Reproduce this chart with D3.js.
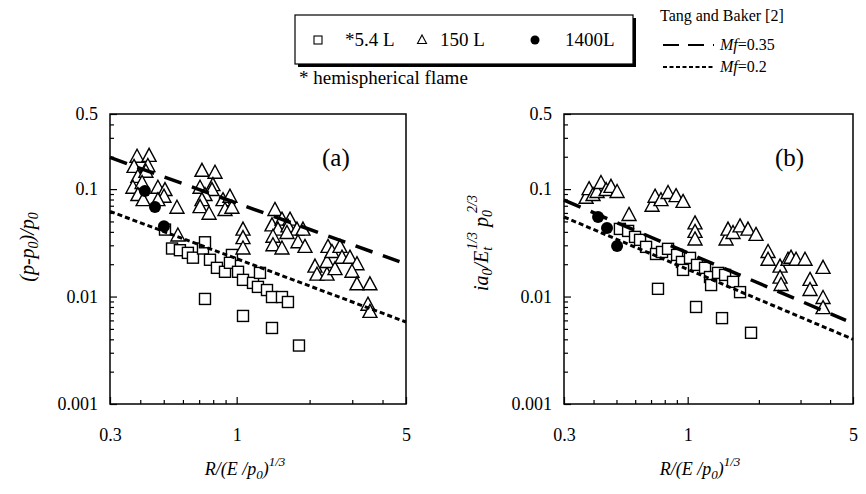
<!DOCTYPE html>
<html>
<head>
<meta charset="utf-8">
<script src="https://cdnjs.cloudflare.com/ajax/libs/d3/7.8.5/d3.min.js"></script>
<style>
    body { margin: 0; background: #fff; }
    svg { display: block; }
    svg text { font-family: "Liberation Serif", "Times New Roman", serif; fill: #000; }
</style>
</head>
<body>
<svg id="chart" width="866" height="494"></svg>
<script>
// ---- data: [R/(E/p0)^1/3, value] ----

// panel (a): (p-p0)/p0
const aTriangles150 = [
    [0.388, 0.200], [0.435, 0.204], [0.377, 0.161], [0.430, 0.164], [0.391, 0.130],
    [0.422, 0.145], [0.373, 0.103], [0.407, 0.114], [0.391, 0.088], [0.411, 0.079],
    [0.473, 0.103], [0.506, 0.098], [0.501, 0.085], [0.473, 0.079],
    [0.567, 0.067], [0.572, 0.037],
    [0.719, 0.148], [0.814, 0.142], [0.706, 0.103], [0.798, 0.109], [0.791, 0.098],
    [0.740, 0.088], [0.719, 0.079], [0.706, 0.068], [0.769, 0.059], [0.878, 0.079],
    [0.938, 0.085], [0.895, 0.064], [0.956, 0.067],
    [1.062, 0.042], [1.062, 0.035], [1.062, 0.028],
    [1.439, 0.064], [1.399, 0.046], [1.538, 0.052], [1.481, 0.042], [1.412, 0.036],
    [1.412, 0.030], [1.538, 0.028], [1.660, 0.052], [1.628, 0.045], [1.774, 0.042],
    [1.878, 0.042], [1.791, 0.032], [1.914, 0.029], [1.613, 0.039],
    [2.105, 0.019], [2.145, 0.016], [2.360, 0.016], [2.360, 0.021], [2.382, 0.029],
    [2.474, 0.026], [2.546, 0.018], [2.669, 0.029], [2.721, 0.023], [2.935, 0.023],
    [3.137, 0.020], [2.992, 0.017], [3.137, 0.013], [3.549, 0.013], [3.483, 0.0084],
    [3.549, 0.0072]
];
const aSquares54 = [
    [0.506, 0.042], [0.541, 0.028], [0.583, 0.027], [0.629, 0.0255], [0.660, 0.023],
    [0.726, 0.028], [0.740, 0.032], [0.776, 0.022], [0.829, 0.0185], [0.895, 0.017],
    [0.956, 0.0244], [0.938, 0.0206], [1.013, 0.017], [1.062, 0.0143], [1.168, 0.0134],
    [1.248, 0.0166], [1.224, 0.0123], [1.334, 0.0115], [1.399, 0.0099], [1.538, 0.0099],
    [1.628, 0.0089], [0.740, 0.0095], [1.062, 0.0066], [1.399, 0.0051], [1.808, 0.0035]
];
const aCircles1400 = [[0.418, 0.096], [0.460, 0.068], [0.501, 0.045]];
const aTangBaker035 = [[0.3, 0.197], [4.7, 0.0211]];
const aTangBaker020 = [[0.3, 0.062], [5, 0.0058]];

// panel (b): i a0 / (Et^1/3 p0^2/3)
const bTriangles150 = [
    [0.372, 0.083], [0.383, 0.100], [0.398, 0.088], [0.414, 0.094], [0.430, 0.114],
    [0.452, 0.098], [0.474, 0.105], [0.503, 0.094],
    [0.565, 0.0575],
    [0.707, 0.070], [0.728, 0.085], [0.771, 0.079], [0.826, 0.092], [0.893, 0.086],
    [0.956, 0.076],
    [1.074, 0.048], [1.074, 0.040], [1.074, 0.034],
    [1.453, 0.034], [1.481, 0.042], [1.555, 0.039], [1.665, 0.045], [1.799, 0.042],
    [1.945, 0.0375],
    [2.187, 0.026], [2.187, 0.022], [2.458, 0.019], [2.458, 0.015], [2.482, 0.0128],
    [2.656, 0.022], [2.735, 0.023], [2.872, 0.022], [3.134, 0.022], [3.291, 0.0143],
    [3.291, 0.0115], [3.735, 0.0185], [3.735, 0.0097], [3.735, 0.0078]
];
const bSquares54 = [
    [0.517, 0.0426], [0.560, 0.0408], [0.599, 0.0359], [0.629, 0.0337], [0.667, 0.029],
    [0.735, 0.0249], [0.779, 0.026], [0.826, 0.0278], [0.902, 0.0244], [0.946, 0.021],
    [0.956, 0.0177], [1.023, 0.0229], [1.095, 0.0197], [1.184, 0.0185], [1.243, 0.0152],
    [1.256, 0.0128], [1.344, 0.0166], [1.439, 0.0159], [1.555, 0.0137], [1.665, 0.011],
    [0.749, 0.0118], [1.085, 0.008], [1.397, 0.0063], [1.853, 0.0046]
];
const bCircles1400 = [[0.418, 0.055], [0.456, 0.0435], [0.503, 0.0296]];
const bTangBaker035 = [[0.3, 0.079], [4.67, 0.006]];
const bTangBaker020 = [[0.3, 0.055], [5, 0.004]];

// axis ticks
const xTickLabels = [0.3, 1, 5];
const xMinorTicks = [0.4, 0.5, 0.6, 0.7, 0.8, 0.9, 2, 3, 4];
const yTickLabels = [0.001, 0.01, 0.1, 0.5];
const yMinorTicks = [0.002, 0.003, 0.004, 0.005, 0.006, 0.007, 0.008, 0.009,
                     0.02, 0.03, 0.04, 0.05, 0.06, 0.07, 0.08, 0.09, 0.2, 0.3, 0.4];

const svg = d3.select("#chart");
const plotTop = 114, plotBottom = 404;
const serif = "'Liberation Serif', 'Times New Roman', serif";

const triPath = "M0,-7.5L7,5.5L-7,5.5Z";

function drawPanel(p) {
    const x = d3.scaleLog().domain([0.3, 5]).range([p.left, p.right]);
    const y = d3.scaleLog().domain([0.001, 0.5]).range([plotBottom, plotTop]);
    const g = svg.append("g");

    // minor ticks (inward)
    g.append("g").attr("transform", `translate(0,${plotBottom})`)
        .call(d3.axisBottom(x).tickValues(xMinorTicks).tickSize(-4).tickFormat(""))
        .call(a => a.select(".domain").remove());
    g.append("g").attr("transform", `translate(${p.left},0)`)
        .call(d3.axisLeft(y).tickValues(yMinorTicks).tickSize(-4).tickFormat(""))
        .call(a => a.select(".domain").remove());

    // major ticks + labels
    g.append("g").attr("transform", `translate(0,${plotBottom})`)
        .call(d3.axisBottom(x).tickValues(xTickLabels).tickSize(-7).tickPadding(24)
            .tickFormat(d => String(d)))
        .call(a => a.select(".domain").remove());
    g.append("g").attr("transform", `translate(${p.left},0)`)
        .call(d3.axisLeft(y).tickValues(yTickLabels).tickSize(-7).tickPadding(12)
            .tickFormat(d => String(d)))
        .call(a => a.select(".domain").remove());

    g.selectAll(".tick line").attr("stroke", "#000").attr("stroke-width", 1.2);
    g.selectAll(".tick text")
        .attr("font-family", serif)
        .attr("font-size", 18)
        .attr("fill", "#000");

    // frame
    g.append("rect")
        .attr("x", p.left).attr("y", plotTop)
        .attr("width", p.right - p.left).attr("height", plotBottom - plotTop)
        .attr("fill", "none").attr("stroke", "#000").attr("stroke-width", 1.5);

    const marks = g.append("g");

    // 5.4 L squares
    marks.selectAll(".sq").data(p.squares).enter().append("rect")
        .attr("x", d => x(d[0]) - 5.5).attr("y", d => y(d[1]) - 5.5)
        .attr("width", 11).attr("height", 11)
        .attr("fill", "#fff").attr("stroke", "#000").attr("stroke-width", 1.4);

    // 150 L triangles
    marks.selectAll(".tri").data(p.triangles).enter().append("path")
        .attr("d", triPath)
        .attr("transform", d => `translate(${x(d[0])},${y(d[1])})`)
        .attr("fill", "#fff").attr("stroke", "#000").attr("stroke-width", 1.4);

    // 1400 L circles
    marks.selectAll(".dot").data(p.circles).enter().append("circle")
        .attr("cx", d => x(d[0])).attr("cy", d => y(d[1])).attr("r", 6)
        .attr("fill", "#000");

    // Tang and Baker curves
    const line = d3.line().x(d => x(d[0])).y(d => y(d[1]));
    g.append("path").datum(p.tb035).attr("d", line)
        .attr("fill", "none").attr("stroke", "#000").attr("stroke-width", 3.5)
        .attr("stroke-dasharray", "18,11");
    g.append("path").datum(p.tb020).attr("d", line)
        .attr("fill", "none").attr("stroke", "#000").attr("stroke-width", 3)
        .attr("stroke-dasharray", "5,3");

    // panel label
    g.append("text")
        .attr("x", p.labelX).attr("y", 166)
        .attr("font-size", 25)
        .text(p.label);

    // x axis title
    const xt = g.append("text")
        .attr("x", p.titleX).attr("y", 475)
        .attr("text-anchor", "middle")
        .attr("font-size", 18).attr("font-style", "italic");
    xt.append("tspan").text("R/(E /p");
    xt.append("tspan").attr("dy", 4).attr("font-size", 13).text("0");
    xt.append("tspan").attr("dy", -4).text(")");
    xt.append("tspan").attr("dy", -9).attr("font-size", 13).text("1/3");
}

drawPanel({
    left: 110, right: 406,
    squares: aSquares54, triangles: aTriangles150, circles: aCircles1400,
    tb035: aTangBaker035, tb020: aTangBaker020,
    label: "(a)", labelX: 322, titleX: 245
});
drawPanel({
    left: 564, right: 853,
    squares: bSquares54, triangles: bTriangles150, circles: bCircles1400,
    tb035: bTangBaker035, tb020: bTangBaker020,
    label: "(b)", labelX: 775, titleX: 700
});

// y axis titles (rotated)
const yl = svg.append("text")
    .attr("transform", "translate(34,247) rotate(-90)")
    .attr("text-anchor", "middle")
    .attr("font-size", 20).attr("font-style", "italic");
yl.append("tspan").text("(p-p");
yl.append("tspan").attr("dy", 4).attr("font-size", 14).text("0");
yl.append("tspan").attr("dy", -4).text(")/p");
yl.append("tspan").attr("dy", 4).attr("font-size", 14).text("0");

const yr = svg.append("text")
    .attr("transform", "translate(488,243) rotate(-90)")
    .attr("text-anchor", "middle")
    .attr("font-size", 20).attr("font-style", "italic");
yr.append("tspan").text("ia");
yr.append("tspan").attr("dy", 4).attr("font-size", 14).text("0");
yr.append("tspan").attr("dy", -4).text("/E");
yr.append("tspan").attr("dy", 4).attr("font-size", 14).text("t");
yr.append("tspan").attr("dx", -3).attr("dy", -15).attr("font-size", 14).text("1/3");
yr.append("tspan").attr("dy", 11).text(" p");
yr.append("tspan").attr("dy", 4).attr("font-size", 14).text("0");
yr.append("tspan").attr("dx", -3).attr("dy", -15).attr("font-size", 14).text("2/3");

// ---- legend box ----
const leg = svg.append("g");
leg.append("rect").attr("x", 298).attr("y", 18).attr("width", 338).attr("height", 49).attr("fill", "#000");
leg.append("rect").attr("x", 295).attr("y", 15).attr("width", 338).attr("height", 49)
    .attr("fill", "#fff").attr("stroke", "#000").attr("stroke-width", 1.2);
leg.append("rect").attr("x", 314).attr("y", 36).attr("width", 8).attr("height", 8)
    .attr("fill", "#fff").attr("stroke", "#000").attr("stroke-width", 1.1);
leg.append("path").attr("d", "M0,-5L4.5,3.5L-4.5,3.5Z").attr("transform", "translate(422,40)")
    .attr("fill", "#fff").attr("stroke", "#000").attr("stroke-width", 1.1);
leg.append("circle").attr("cx", 535).attr("cy", 40).attr("r", 4.5).attr("fill", "#000");
[["*5.4 L", 345], ["150 L", 440], ["1400L", 565]].forEach(([t, lx]) => {
    leg.append("text").attr("x", lx).attr("y", 46).attr("font-size", 19).text(t);
});
svg.append("text").attr("x", 299).attr("y", 84).attr("font-size", 19).text("* hemispherical flame");

// ---- Tang and Baker key ----
const tb = svg.append("g");
tb.append("text").attr("x", 660).attr("y", 21).attr("font-size", 16).text("Tang and Baker [2]");
tb.append("line").attr("x1", 663).attr("x2", 714).attr("y1", 45).attr("y2", 45)
    .attr("stroke", "#000").attr("stroke-width", 2).attr("stroke-dasharray", "16,9");
tb.append("line").attr("x1", 663).attr("x2", 714).attr("y1", 67).attr("y2", 67)
    .attr("stroke", "#000").attr("stroke-width", 2).attr("stroke-dasharray", "4,2.5");
[["0.35", 50], ["0.2", 72]].forEach(([v, ly]) => {
    const t = tb.append("text").attr("x", 720).attr("y", ly).attr("font-size", 16);
    t.append("tspan").attr("font-style", "italic").text("Mf");
    t.append("tspan").text("=" + v);
});
</script>
</body>
</html>
